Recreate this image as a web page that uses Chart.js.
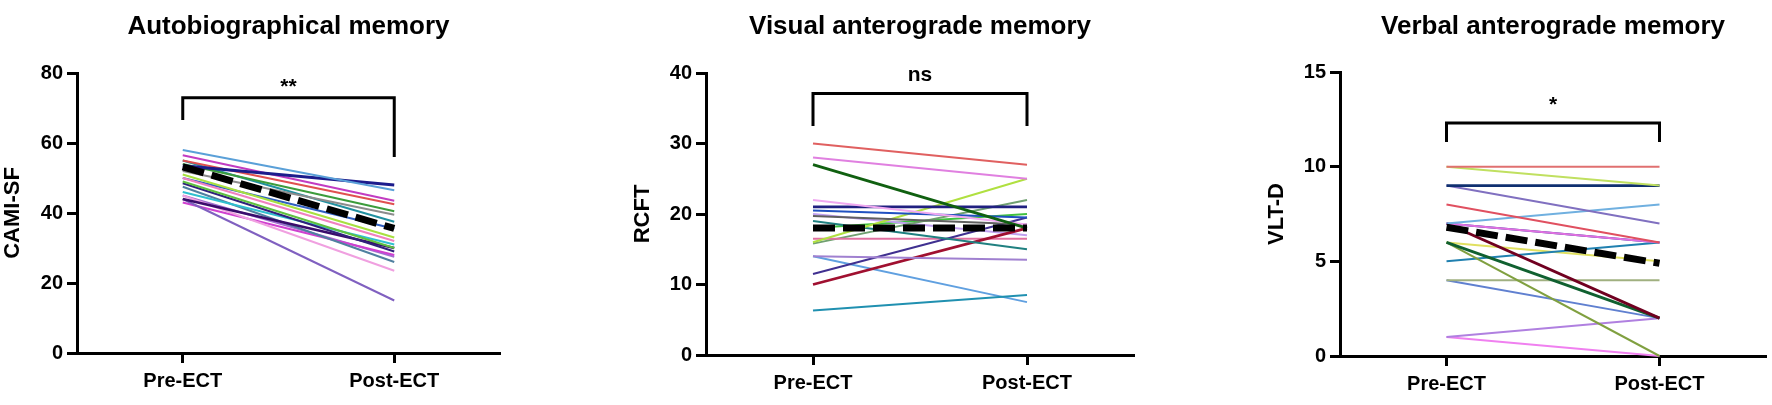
<!DOCTYPE html>
<html>
<head>
<meta charset="utf-8">
<script src="https://cdn.jsdelivr.net/npm/chart.js@4.4.1/dist/chart.umd.min.js"></script>
<style>
  body { margin: 0; background: #fff; }
  #wrap { position: relative; width: 1772px; height: 405px; overflow: hidden; }
  canvas { position: absolute; top: 0; }
</style>
</head>
<body>
<div id="wrap">
  <canvas id="c1" width="560" height="405" style="left:0px"></canvas>
  <canvas id="c2" width="560" height="405" style="left:600px"></canvas>
  <canvas id="c3" width="572" height="405" style="left:1200px"></canvas>
</div>
<script>
// time points
const timepoints = ['Pre-ECT', 'Post-ECT'];

// Autobiographical memory (CAMI-SF), one value per patient
const camiPre  = [58, 53.5, 56.5, 55, 54, 52, 55, 51, 50, 49, 48.5, 44, 46, 47.5, 45, 44, 43, 50, 45];
const camiPost = [46.5, 48, 43.5, 42.5, 40.5, 39.5, 37.5, 33, 32, 30, 29, 30, 31, 26, 23.5, 15, 28, 35.5, 27.5];
const camiMean = [53.2, 35.6];

// Visual anterograde memory (RCFT)
const rcftPre  = [30, 28, 27, 22, 21, 20.5, 19.7, 16, 19, 14, 11.5, 10, 6.3, 14, 16.5, 15.8, 20, 18];
const rcftPost = [27, 25, 18, 18.5, 21, 19.5, 18.5, 25, 15, 13.5, 19.5, 18, 8.5, 7.5, 16.5, 22, 17, 20];
const rcftMean = [18, 18];

// Verbal anterograde memory (VLT-D)
const vltPre  = [10, 10, 9, 9, 8, 7, 7, 7, 6, 6, 5, 6, 4, 4, 1, 1, 7];
const vltPost = [10, 9, 9, 7, 6, 8, 6, 2, 2, 0, 6, 5, 4, 2, 2, 0, 6];
const vltMean = [6.8, 4.9];

const palette1 = ['#5aa0d8', '#1c1c8c', '#c23cc2', '#e05050', '#3c9c3c', '#8c8c8c', '#2090a0', '#a8e040',
  '#f080c0', '#60c040', '#30207c', '#3a0c6c', '#30c0d0', '#5080a0', '#f0a0e0', '#8060c0', '#d040d0', '#3060c0', '#a070d0'];
const palette2 = ['#e06060', '#e080e0', '#106010', '#f0a8f0', '#202080', '#2050c0', '#606060', '#b0e040',
  '#208080', '#a080d0', '#403090', '#a01030', '#2090b0', '#60a0e0', '#e070a0', '#70a070', '#c0a0f0', '#40c040'];
const palette3 = ['#e07070', '#c0e060', '#103070', '#8070c0', '#e05060', '#70b0e0', '#e070e0', '#700020',
  '#106030', '#80a040', '#2080b0', '#e0e060', '#a0b080', '#6080d0', '#b080e0', '#f080f0', '#3040a0'];
const thick = ['#1c1c8c', '#3a0c6c', '#106010', '#202080', '#a01030', '#103070', '#700020', '#106030'];

Chart.defaults.font.family = '"Liberation Sans", Arial, sans-serif';
Chart.defaults.font.weight = 'bold';
Chart.defaults.color = '#000';

const bracketPlugin = {
  id: 'bracket',
  afterDatasetsDraw(chart, args, b) {
    const ctx = chart.ctx;
    const xs = chart.scales.x, ys = chart.scales.y;
    const x0 = xs.getPixelForValue(0), x1 = xs.getPixelForValue(1);
    const yt = ys.getPixelForValue(b.top);
    ctx.save();
    ctx.strokeStyle = '#000';
    ctx.lineWidth = 3;
    ctx.beginPath();
    ctx.moveTo(x0, ys.getPixelForValue(b.left));
    ctx.lineTo(x0, yt);
    ctx.lineTo(x1, yt);
    ctx.lineTo(x1, ys.getPixelForValue(b.right));
    ctx.stroke();
    ctx.fillStyle = '#000';
    ctx.font = 'bold 21px "Liberation Sans", Arial, sans-serif';
    ctx.textAlign = 'center';
    ctx.textBaseline = 'middle';
    ctx.fillText(b.text, (x0 + x1) / 2, ys.getPixelForValue(b.textAt));
    ctx.restore();
  }
};

function buildDatasets(pre, post, mean, colors) {
  const ds = [{
    data: mean,
    borderColor: '#000',
    borderWidth: 7,
    borderDash: [22, 8],
    pointRadius: 0,
    clip: false
  }];
  pre.forEach((v, i) => {
    ds.push({
      data: [v, post[i]],
      borderColor: colors[i],
      borderWidth: thick.includes(colors[i]) ? 2.8 : 2,
      pointRadius: 0,
      clip: false
    });
  });
  return ds;
}

function makeChart(id, o) {
  new Chart(document.getElementById(id), {
    type: 'line',
    data: { labels: timepoints, datasets: buildDatasets(o.pre, o.post, o.mean, o.colors) },
    plugins: [bracketPlugin],
    options: {
      responsive: false,
      animation: false,
      layout: { padding: { left: 0, right: o.padRight, top: 0, bottom: 0 } },
      elements: { line: { tension: 0 } },
      plugins: {
        legend: { display: false },
        tooltip: { enabled: false },
        title: {
          display: true,
          text: o.title,
          fullSize: false,
          font: { size: 26, weight: 'bold' },
          padding: { top: 11, bottom: o.titleBottom }
        },
        bracket: o.bracket
      },
      scales: {
        x: {
          offset: true,
          afterFit(s) { s.height = o.xHeight; },
          border: { color: '#000', width: 3 },
          grid: { drawOnChartArea: false, tickLength: 10, tickWidth: 3, tickColor: '#000' },
          ticks: { font: { size: 20, weight: 'bold' }, padding: 6, maxRotation: 0 }
        },
        y: {
          min: 0,
          max: o.max,
          afterFit(s) { s.width = o.yWidth; },
          border: { color: '#000', width: 3 },
          grid: { drawOnChartArea: false, tickLength: 10, tickWidth: 3, tickColor: '#000' },
          ticks: { stepSize: o.step, font: { size: 20, weight: 'bold' }, padding: 4 },
          title: {
            display: true,
            text: o.yTitle,
            font: { size: 22, weight: 'bold' },
            padding: { top: o.yTitlePad, bottom: 0 }
          }
        }
      }
    }
  });
}

makeChart('c1', {
  title: 'Autobiographical memory', yTitle: 'CAMI-SF',
  pre: camiPre, post: camiPost, mean: camiMean, colors: palette1,
  max: 80, step: 20, yWidth: 77, padRight: 60, xHeight: 52, titleBottom: 30.8, yTitlePad: 0,
  bracket: { top: 72.9, left: 66.6, right: 56, text: '**', textAt: 76 }
});

makeChart('c2', {
  title: 'Visual anterograde memory', yTitle: 'RCFT',
  pre: rcftPre, post: rcftPost, mean: rcftMean, colors: palette2,
  max: 40, step: 10, yWidth: 106, padRight: 26, xHeight: 50, titleBottom: 30.8, yTitlePad: 30,
  bracket: { top: 37.1, left: 32.5, right: 32.5, text: 'ns', textAt: 39.7 }
});

makeChart('c3', {
  title: 'Verbal anterograde memory', yTitle: 'VLT-D',
  pre: vltPre, post: vltPost, mean: vltMean, colors: palette3,
  max: 15, step: 5, yWidth: 140, padRight: 6, xHeight: 49, titleBottom: 29.8, yTitlePad: 64,
  bracket: { top: 12.3, left: 11.3, right: 11.3, text: '*', textAt: 13.26 }
});
</script>
</body>
</html>
